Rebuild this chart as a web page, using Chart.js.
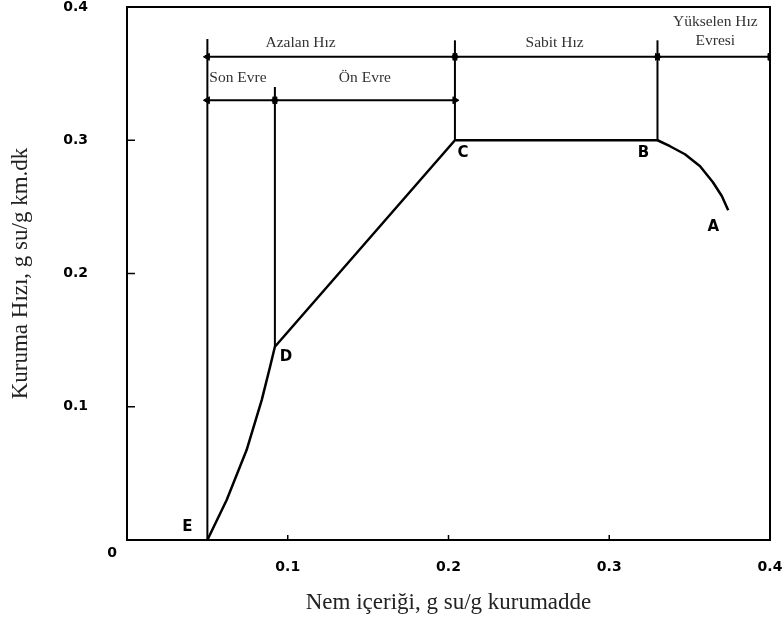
<!DOCTYPE html>
<html>
<head>
<meta charset="utf-8">
<script src="https://cdn.jsdelivr.net/npm/chart.js@4"></script>
<style>body{margin:0;background:#fff}</style>
</head>
<body>
<canvas id="mycanvas" width="782" height="630"></canvas>
<script>
// kuruma egrisi: E -> D -> C -> B -> A
var curveX = [0.05, 0.062, 0.0744, 0.0838, 0.089, 0.092, 0.204, 0.33, 0.3378, 0.3471, 0.3565, 0.3645, 0.3701, 0.374];
var curveY = [0, 0.030, 0.0675, 0.105, 0.13, 0.145, 0.30, 0.30, 0.2955, 0.2895, 0.2805, 0.2685, 0.258, 0.2475];
var pointNames = ['E', 'D', 'C', 'B', 'A'];
var pointIdx = [0, 5, 6, 7, 13];

// faz sinirlari (dikey cizgiler)
var phaseX = [0.05, 0.092, 0.204, 0.33];
var phaseBottom = [0, 0.145, 0.30, 0.30];
var phaseTop = [0.376, 0.34, 0.375, 0.375];

// oklar ve yazilari
var arrowY = [0.3626, 0.3626, 0.3626, 0.33, 0.33];
var arrowFrom = [0.05, 0.204, 0.33, 0.05, 0.092];
var arrowTo = [0.204, 0.33, 0.4, 0.092, 0.204];
var arrowText = ['Azalan Hız', 'Sabit Hız', ['Yükselen Hız', 'Evresi'], 'Son Evre', 'Ön Evre'];
var arrowTextX = [0.108, 0.266, 0.366, 0.069, 0.148];

var tickValues = [0.1, 0.2, 0.3, 0.4];

var ctx = document.getElementById('mycanvas').getContext('2d');

var datasets = [];
datasets.push({
    data: curveX.map(function (x, i) { return {x: x, y: curveY[i]}; }),
    borderColor: '#000', borderWidth: 2.5, pointRadius: 0, showLine: true,
    borderJoinStyle: 'round'
});
phaseX.forEach(function (x, i) {
    datasets.push({
        data: [{x: x, y: phaseBottom[i]}, {x: x, y: phaseTop[i]}],
        borderColor: '#000', borderWidth: 2, pointRadius: 0, showLine: true
    });
});
arrowY.forEach(function (y, i) {
    datasets.push({
        data: [{x: arrowFrom[i], y: y}, {x: arrowTo[i], y: y}],
        borderColor: '#000', borderWidth: 2, showLine: true,
        pointStyle: 'triangle', pointRadius: 4, pointRotation: [-90, 90],
        pointBackgroundColor: '#000', pointBorderColor: '#000', pointBorderWidth: 1
    });
});

// cerceve, ic tik cizgileri ve yazilar
var extras = {
    id: 'extras',
    afterDatasetsDraw: function (chart) {
        var c = chart.ctx, a = chart.chartArea;
        var xs = chart.scales.x, ys = chart.scales.y;
        c.save();
        c.strokeStyle = '#000';
        c.lineWidth = 2;
        c.strokeRect(a.left, a.top, a.right - a.left, a.bottom - a.top);
        c.lineWidth = 1.5;
        [0.1, 0.2, 0.3].forEach(function (v) {
            var px = xs.getPixelForValue(v), py = ys.getPixelForValue(v);
            c.beginPath(); c.moveTo(px, a.bottom); c.lineTo(px, a.bottom - 5); c.stroke();
            c.beginPath(); c.moveTo(a.left, py); c.lineTo(a.left + 8, py); c.stroke();
        });

        c.fillStyle = '#000';
        c.font = 'bold 14px "DejaVu Sans"';
        c.textAlign = 'center';
        c.textBaseline = 'middle';
        c.fillText('0', a.left - 15, a.bottom + 13);

        var off = [[-20, -13], [11, 10], [8, 13], [-14, 13], [-15, 17]];
        c.font = 'bold 15px "DejaVu Sans"';
        pointNames.forEach(function (n, i) {
            var k = pointIdx[i];
            c.fillText(n, xs.getPixelForValue(curveX[k]) + off[i][0], ys.getPixelForValue(curveY[k]) + off[i][1]);
        });

        c.fillStyle = '#333';
        c.font = '15.5px "Liberation Serif"';
        arrowText.forEach(function (t, i) {
            var px = xs.getPixelForValue(arrowTextX[i]);
            var py = ys.getPixelForValue(arrowY[i]);
            if (Array.isArray(t)) {
                c.fillText(t[0], px, py - 35);
                c.fillText(t[1], px, py - 16);
            } else {
                c.fillText(t, px, py - (i < 3 ? 14 : 22));
            }
        });
        c.restore();
    }
};

var myChart = new Chart(ctx, {
    type: 'scatter',
    data: {datasets: datasets},
    plugins: [extras],
    options: {
        responsive: false,
        animation: false,
        layout: {padding: {top: 7, right: 12, left: 0, bottom: 0}},
        plugins: {legend: {display: false}, tooltip: {enabled: false}},
        scales: {
            x: {
                min: 0, max: 0.4,
                afterFit: function (s) { s.height = 90; s.paddingLeft = 0; s.paddingRight = 0; },
                afterBuildTicks: function (s) { s.ticks = tickValues.map(function (v) { return {value: v}; }); },
                grid: {display: false, drawTicks: false},
                border: {display: false},
                ticks: {padding: 19, color: '#000', font: {family: 'DejaVu Sans', size: 14, weight: 'bold'},
                    callback: function (v) { return v.toFixed(1); }},
                title: {display: true, text: 'Nem içeriği, g su/g kurumadde', color: '#222',
                    font: {family: 'Liberation Serif', size: 23}, padding: {top: 4, bottom: 13}}
            },
            y: {
                min: 0, max: 0.4,
                afterFit: function (s) { s.width = 127; s.paddingTop = 0; s.paddingBottom = 0; },
                afterBuildTicks: function (s) { s.ticks = tickValues.map(function (v) { return {value: v}; }); },
                grid: {display: false, drawTicks: false},
                border: {display: false},
                ticks: {padding: 39, color: '#000', font: {family: 'DejaVu Sans', size: 14, weight: 'bold'},
                    callback: function (v) { return v.toFixed(1); }},
                title: {display: true, text: 'Kuruma Hızı, g su/g km.dk', color: '#222',
                    font: {family: 'Liberation Serif', size: 23}, padding: {top: 7, bottom: 4}}
            }
        }
    }
});
</script>
</body>
</html>
